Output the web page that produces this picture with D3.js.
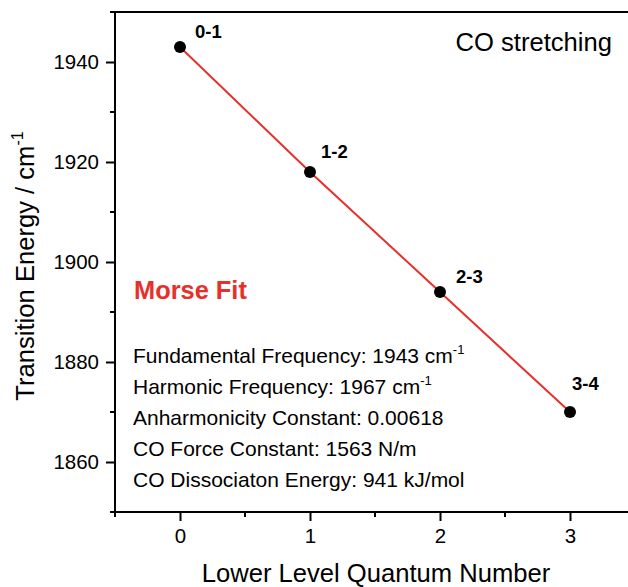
<!DOCTYPE html>
<html>
<head>
<meta charset="utf-8">
<script src="https://cdn.jsdelivr.net/npm/d3@7"></script>
<style>
  html, body { margin: 0; padding: 0; background: #fff; }
  svg { display: block; font-family: "Liberation Sans", Arial, Helvetica, sans-serif; }
</style>
</head>
<body>
<svg id="chart" width="628" height="587"></svg>
<script>
// ---- data ----
const quantumNumbers = [0, 1, 2, 3];
const transitionEnergies = [1943, 1918, 1894, 1870];
const transitionLabels = ["0-1", "1-2", "2-3", "3-4"];
const xTicks = [0, 1, 2, 3];
const yTicks = [1860, 1880, 1900, 1920, 1940];
const fitTitle = "Morse Fit";
const fitLines = [
  ["Fundamental Frequency: 1943 cm", "-1"],
  ["Harmonic Frequency: 1967 cm", "-1"],
  ["Anharmonicity Constant: 0.00618", ""],
  ["CO Force Constant: 1563 N/m", ""],
  ["CO Dissociaton Energy: 941 kJ/mol", ""]
];
const chartTitle = "CO stretching";
const xTitle = "Lower Level Quantum Number";
const yTitle = "Transition Energy / cm";

// ---- layout / style ----
(function () {
const labelOffsets = [[15, -9], [11, -14], [16, -9], [2, -22]];
const red = "#e8302a";
const svg = d3.select("#chart");
const mLeft = 115, mTop = 12, mBottom = 512, mRight = 635;

const x = d3.scaleLinear().domain([-0.5, 3.5]).range([mLeft, mRight]);
const y = d3.scaleLinear().domain([1850, 1950]).range([mBottom, mTop]);

// frame (top + right)
svg.append("path")
  .attr("d", `M${mLeft},${mTop}H${mRight}V${mBottom}`)
  .attr("fill", "none").attr("stroke", "#000").attr("stroke-width", 2);

// x axis
const xMinor = d3.range(-0.5, 3.51, 0.5).filter(v => !xTicks.includes(v));
const xAxisG = svg.append("g").attr("transform", `translate(0,${mBottom})`);
xAxisG.call(d3.axisBottom(x).tickValues(xTicks).tickSize(9).tickPadding(7).tickFormat(d3.format("d")));
xMinor.forEach(v => {
  xAxisG.append("line").attr("x1", x(v)).attr("x2", x(v)).attr("y1", 0).attr("y2", 5)
    .attr("stroke", "#000").attr("stroke-width", 2);
});
xAxisG.select(".domain").attr("stroke-width", 2).attr("d", `M${mLeft},0H${mRight}`);
xAxisG.selectAll(".tick line").attr("stroke-width", 2);
xAxisG.selectAll(".tick text").attr("font-size", 20.5).attr("fill", "#000");
xAxisG.attr("font-family", null);

// y axis
const yMinor = d3.range(1850, 1951, 10).filter(v => !yTicks.includes(v));
const yAxisG = svg.append("g").attr("transform", `translate(${mLeft},0)`);
yAxisG.call(d3.axisLeft(y).tickValues(yTicks).tickSize(9).tickPadding(7).tickFormat(d3.format("d")));
yMinor.forEach(v => {
  yAxisG.append("line").attr("x1", 0).attr("x2", -5).attr("y1", y(v)).attr("y2", y(v))
    .attr("stroke", "#000").attr("stroke-width", 2);
});
yAxisG.select(".domain").attr("stroke-width", 2).attr("d", `M0,${mBottom}V${mTop}`);
yAxisG.selectAll(".tick line").attr("stroke-width", 2);
yAxisG.selectAll(".tick text").attr("font-size", 20.5).attr("fill", "#000");
yAxisG.attr("font-family", null);

// fit line
const line = d3.line().x((d, i) => x(quantumNumbers[i])).y(d => y(d));
svg.append("path").datum(transitionEnergies).attr("d", line)
  .attr("fill", "none").attr("stroke", red).attr("stroke-width", 2);

// points
svg.selectAll("circle.pt").data(transitionEnergies).enter().append("circle")
  .attr("class", "pt")
  .attr("cx", (d, i) => x(quantumNumbers[i])).attr("cy", d => y(d)).attr("r", 6).attr("fill", "#000");

// point labels
svg.selectAll("text.lbl").data(transitionLabels).enter().append("text")
  .attr("class", "lbl")
  .attr("x", (d, i) => x(quantumNumbers[i]) + labelOffsets[i][0])
  .attr("y", (d, i) => y(transitionEnergies[i]) + labelOffsets[i][1])
  .attr("font-size", 18.5).attr("font-weight", "bold").text(d => d);

// chart title
svg.append("text").attr("x", 612).attr("y", 51).attr("text-anchor", "end")
  .attr("font-size", 25.6).text(chartTitle);

// Morse fit text
svg.append("text").attr("x", 134).attr("y", 299).attr("font-size", 25.4)
  .attr("font-weight", "bold").attr("fill", red).text(fitTitle);
fitLines.forEach((l, i) => {
  const t = svg.append("text").attr("x", 133).attr("y", 363 + i * 31).attr("font-size", 21);
  t.append("tspan").text(l[0]);
  if (l[1]) t.append("tspan").attr("font-size", 13).attr("dy", -9).text(l[1]);
});

// axis titles
svg.append("text").attr("x", 376).attr("y", 582).attr("text-anchor", "middle")
  .attr("font-size", 25.6).text(xTitle);
const yt = svg.append("text").attr("transform", `translate(34,${(mTop + mBottom) / 2 + 4}) rotate(-90)`)
  .attr("text-anchor", "middle").attr("font-size", 25.6);
yt.append("tspan").text(yTitle);
yt.append("tspan").attr("font-size", 16).attr("dy", -11).text("-1");
})();
</script>
</body>
</html>
